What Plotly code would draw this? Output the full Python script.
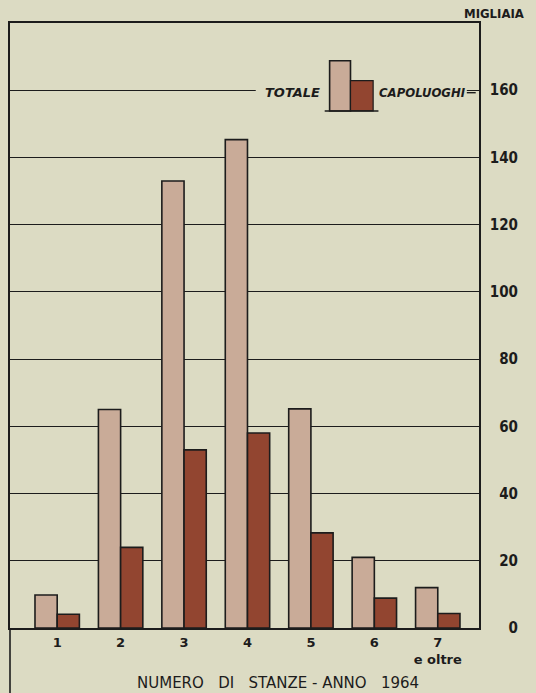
import plotly.graph_objects as go

categories = ["1", "2", "3", "4", "5", "6", "7"]
category_labels = ["<b>1</b>", "<b>2</b>", "<b>3</b>", "<b>4</b>", "<b>5</b>", "<b>6</b>",
                   "<b>7</b><br><b>e oltre</b>"]
totale = [9.8, 65, 133, 145.3, 65.2, 21, 12]
capoluoghi = [4.1, 24, 53, 58, 28.3, 8.9, 4.3]
y_ticks = [0, 20, 40, 60, 80, 100, 120, 140, 160]
FS = "\u2007"
y_ticklabels = ["<b>" + FS * (3 - len(str(v))) + str(v) + "</b>" for v in y_ticks]

BG = "#dcdbc3"
C_TOT = "#c9ab98"
C_CAP = "#924530"
INK = "#1c1c1c"
FONT = "DejaVu Sans Condensed, DejaVu Sans, sans-serif"
FONT_W = "DejaVu Sans, sans-serif"

fig = go.Figure()
fig.add_trace(go.Bar(x=categories, y=totale, name="TOTALE",
                     marker=dict(color=C_TOT, line=dict(color=INK, width=1.6))))
fig.add_trace(go.Bar(x=categories, y=capoluoghi, name="CAPOLUOGHI",
                     marker=dict(color=C_CAP, line=dict(color=INK, width=1.6))))

fig.update_layout(
    width=536, height=693,
    margin=dict(l=8, r=57, t=23, b=65),
    paper_bgcolor=BG, plot_bgcolor=BG,
    barmode="group", bargap=0.30, bargroupgap=0,
    showlegend=False,
    font=dict(family=FONT, color=INK, size=14),
)
fig.update_xaxes(
    type="category", range=[-0.744, 6.65],
    tickvals=categories, ticktext=category_labels,
    showgrid=False, showline=True, linecolor=INK, linewidth=1.6, mirror=True,
    ticks="", ticklabelstandoff=2,
    tickfont=dict(family=FONT_W, size=13, color=INK),
)
fig.update_yaxes(
    range=[0, 180], side="right",
    tickvals=y_ticks, ticktext=y_ticklabels,
    showgrid=True, gridcolor=INK, gridwidth=1.4,
    zeroline=False, showline=True, linecolor=INK, linewidth=1.6, mirror=True,
    ticks="", ticklabelstandoff=6,
    tickfont=dict(family=FONT, size=15, color=INK),
)

# left frame line continuing below the axis
fig.add_shape(type="line", xref="paper", yref="paper", x0=0, x1=0, y0=0, y1=-0.12,
              line=dict(color=INK, width=1.6))

# legend: mask the 160 gridline, draw swatches
fig.add_shape(type="rect", xref="paper", yref="paper", x0=0.524, x1=0.974,
              y0=0.878, y1=0.892, fillcolor=BG, line=dict(width=0), layer="above")
fig.add_shape(type="line", xref="paper", yref="paper", x0=0.974, x1=0.993,
              y0=0.8848, y1=0.8848, line=dict(color=INK, width=1.4))
fig.add_shape(type="rect", xref="paper", yref="paper", x0=0.6815, x1=0.726,
              y0=0.8546, y1=0.9377, fillcolor=C_TOT, line=dict(color=INK, width=1.6))
fig.add_shape(type="rect", xref="paper", yref="paper", x0=0.726, x1=0.7743,
              y0=0.8546, y1=0.9047, fillcolor=C_CAP, line=dict(color=INK, width=1.2))
fig.add_shape(type="line", xref="paper", yref="paper", x0=0.671, x1=0.7856,
              y0=0.8546, y1=0.8546, line=dict(color=INK, width=1.6))

fig.add_annotation(text="<b><i>TOTALE</i></b>", xref="paper", yref="paper",
                   x=0.6645, y=0.8844, xanchor="right", yanchor="middle",
                   showarrow=False, font=dict(family=FONT_W, size=13, color=INK))
fig.add_annotation(text="<b><i>CAPOLUOGHI</i></b>", xref="paper", yref="paper",
                   x=0.7828, y=0.8844, xanchor="left", yanchor="middle",
                   showarrow=False, font=dict(family=FONT, size=13, color=INK))

fig.add_annotation(text="<b>MIGLIAIA</b>", xref="paper", yref="paper",
                   x=1.032, y=1.015, xanchor="center", yanchor="middle",
                   showarrow=False, font=dict(family=FONT, size=13, color=INK))
fig.add_annotation(text="NUMERO   DI   STANZE - ANNO   1964", xref="paper", yref="paper",
                   x=0.571, y=-0.0904, xanchor="center", yanchor="middle",
                   showarrow=False, font=dict(family=FONT_W, size=15, color=INK))

fig.write_html(
    "out.html",
    config={"displayModeBar": False},
    post_script=(
        "document.body.style.margin='0';"
        "document.body.style.background='" + BG + "';"
        "document.body.style.overflow='hidden';"
    ),
)
